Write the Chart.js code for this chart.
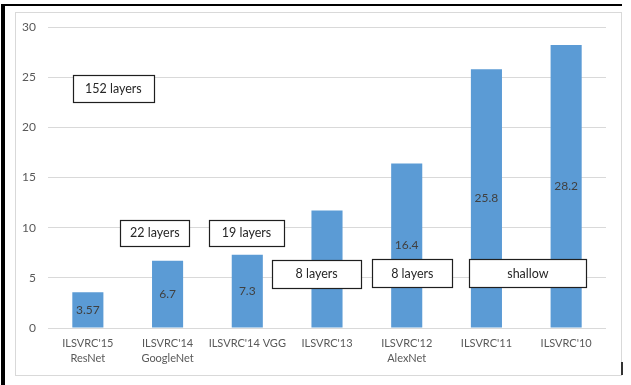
<!DOCTYPE html>
<html>
<head>
<meta charset="utf-8">
<script src="https://cdn.jsdelivr.net/npm/chart.js@4.4.1/dist/chart.umd.min.js"></script>
<style>
  html, body { margin: 0; padding: 0; background: #fff; }
  body { width: 631px; height: 385px; position: relative; overflow: hidden; }
  .edge { position: absolute; left: 1px; top: 4px; width: 621px; height: 381px;
          border-left: 4px solid #000; border-top: 2px solid #000; box-sizing: border-box; }
  .tick-r { position: absolute; left: 621px; top: 362px; width: 2px; height: 13px; background: #333; }
  .frame { position: absolute; left: 15px; top: 12px; width: 607px; height: 364px;
           border: 1px solid #d9d9d9; box-sizing: border-box; }
  #wrap { position: absolute; left: 16px; top: 13px; width: 605px; height: 361px; }
</style>
</head>
<body>
<div class="edge"></div>
<div class="frame"></div>
<div class="tick-r"></div>
<div id="wrap"><canvas id="c" width="605" height="361"></canvas></div>
<script>
// Top-5 error by ILSVRC winner
const categories = [
  ["ILSVRC'15", "ResNet"],
  ["ILSVRC'14", "GoogleNet"],
  "ILSVRC'14 VGG",
  "ILSVRC'13",
  ["ILSVRC'12", "AlexNet"],
  "ILSVRC'11",
  "ILSVRC'10"
];
const errorRates = [3.57, 6.7, 7.3, 11.7, 16.4, 25.8, 28.2];
const valueLabels = ["3.57", "6.7", "7.3", "11.7", "16.4", "25.8", "28.2"];
const yTicks = [0, 5, 10, 15, 20, 25, 30];

// Depth callouts: text, category position, value position, box size
const calloutTexts = ["152 layers", "22 layers", "19 layers", "8 layers", "8 layers", "shallow"];
const calloutAt    = [0.32, 0.84, 1.99, 2.87, 4.07, 5.52];
const calloutValue = [23.85, 9.5, 9.5, 5.4, 5.45, 5.45];
const calloutW     = [81, 69, 75, 89, 80, 117];
const calloutH     = [27, 26, 26, 28, 28, 28];

const FONT = "Lato, 'Open Sans', sans-serif";

const annotate = {
  id: 'annotate',
  afterDatasetsDraw(chart) {
    const ctx = chart.ctx;
    const meta = chart.getDatasetMeta(0);
    ctx.save();
    ctx.font = "12px " + FONT;
    ctx.fillStyle = '#404040';
    ctx.textAlign = 'center';
    ctx.textBaseline = 'middle';
    meta.data.forEach((bar, i) => {
      const p = bar.getProps(['x', 'y', 'base'], true);
      ctx.fillText(valueLabels[i], p.x, (p.y + p.base) / 2);
    });
    ctx.restore();
  },
  afterDraw(chart) {
    const ctx = chart.ctx;
    const xs = chart.scales.x, ys = chart.scales.y;
    ctx.save();
    ctx.font = "12.5px " + FONT;
    ctx.textAlign = 'center';
    ctx.textBaseline = 'middle';
    calloutTexts.forEach((t, i) => {
      const cx = xs.getPixelForValue(calloutAt[i]);
      const cy = ys.getPixelForValue(calloutValue[i]);
      const w = calloutW[i], h = calloutH[i];
      const x0 = Math.round(cx - w / 2) + 0.5, y0 = Math.round(cy - h / 2) + 0.5;
      ctx.fillStyle = '#fff';
      ctx.fillRect(x0, y0, w, h);
      ctx.strokeStyle = '#1f1f1f';
      ctx.lineWidth = 1.2;
      ctx.strokeRect(x0, y0, w, h);
      ctx.fillStyle = '#262626';
      ctx.fillText(t, cx, cy + 0.5);
    });
    ctx.restore();
  }
};

new Chart(document.getElementById('c'), {
  type: 'bar',
  data: {
    labels: categories,
    datasets: [{
      data: errorRates,
      backgroundColor: '#5b9bd5',
      borderWidth: 0,
      categoryPercentage: 1,
      barPercentage: 0.39
    }]
  },
  options: {
    responsive: false,
    devicePixelRatio: 1,
    animation: false,
    layout: { padding: { top: 14, right: 15, bottom: 0, left: 0 } },
    plugins: { legend: { display: false }, tooltip: { enabled: false } },
    scales: {
      x: {
        grid: { display: false, drawTicks: false },
        border: { display: false },
        ticks: {
          color: '#595959',
          font: { family: FONT, size: 11, lineHeight: '15px' },
          padding: 8,
          maxRotation: 0,
          autoSkip: false
        }
      },
      y: {
        min: 0,
        max: 30,
        afterBuildTicks(axis) { axis.ticks = yTicks.map(v => ({ value: v })); },
        afterFit(axis) {
          axis.width = 32;
          axis.paddingTop = 0;
          axis.paddingBottom = 0;
        },
        grid: { color: '#d9d9d9', lineWidth: 1, drawTicks: false },
        border: { display: false },
        ticks: {
          color: '#595959',
          font: { family: FONT, size: 12 },
          padding: 12
        }
      }
    }
  },
  plugins: [annotate]
});
</script>
</body>
</html>
